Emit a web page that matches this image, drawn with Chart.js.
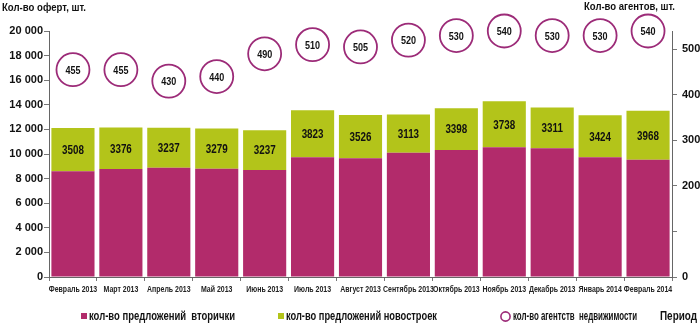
<!DOCTYPE html>
<html lang="ru">
<head>
<meta charset="utf-8">
<script src="https://cdn.jsdelivr.net/npm/chart.js@4/dist/chart.umd.min.js"></script>
<style>
  html, body { margin: 0; padding: 0; background: #fff; }
  #wrap { position: relative; width: 700px; height: 323px; }
</style>
</head>
<body>
<div id="wrap"><canvas id="c" width="700" height="323"></canvas></div>
<script>
// Периоды
const months = ['Февраль 2013', 'Март 2013', 'Апрель 2013', 'Май 2013', 'Июнь 2013', 'Июль 2013',
  'Август 2013', 'Сентябрь 2013', 'Октябрь 2013', 'Ноябрь 2013', 'Декабрь 2013', 'Январь 2014', 'Февраль 2014'];
// кол-во предложений вторички
const resale = [8600, 8780, 8890, 8800, 8700, 9730, 9650, 10100, 10330, 10550, 10460, 9730, 9540];
// кол-во предложений новостроек
const newBuild = [3508, 3376, 3237, 3279, 3237, 3823, 3526, 3113, 3398, 3738, 3311, 3424, 3968];
// кол-во агентств недвижимости
const agencies = [455, 455, 430, 440, 490, 510, 505, 520, 530, 540, 530, 530, 540];
// деления осей
const offerTicks = [0, 2000, 4000, 6000, 8000, 10000, 12000, 14000, 16000, 18000, 20000];
const agencyTicks = [0, 100, 200, 300, 400, 500];

const PINK = '#b22b6b';
const GREEN = '#b3c41a';
const RING = '#9c2b78';
const SANS = '"Liberation Sans", Arial, sans-serif';
const SQUEEZE = 0.82;

const fmtThousands = v => String(v).replace(/\B(?=(\d{3})+(?!\d))/g, ' ');

// узкое начертание: горизонтально сжатый полужирный шрифт
function narrowText(ctx, text, x, y, size, align, width) {
  ctx.save();
  ctx.font = 'bold ' + size + 'px ' + SANS;
  const sx = width ? width / ctx.measureText(text).width : SQUEEZE;
  ctx.translate(x, y);
  ctx.scale(sx, 1);
  ctx.textAlign = align;
  ctx.textBaseline = 'middle';
  ctx.fillText(text, 0, 0);
  ctx.restore();
}

// подписи значений, подписи периодов, заголовки осей и легенда
const annotate = {
  id: 'annotate',
  afterDatasetsDraw(chart) {
    const ctx = chart.ctx;
    ctx.save();
    ctx.fillStyle = '#111';

    chart.getDatasetMeta(1).data.forEach((bar, i) => {
      const p = bar.getProps(['y', 'base'], true);
      narrowText(ctx, String(newBuild[i]), bar.x, (p.y + p.base) / 2 + 1, 12, 'center');
    });

    chart.getDatasetMeta(2).data.forEach((pt, i) => {
      narrowText(ctx, String(agencies[i]), pt.x, pt.y + 1, 11, 'center');
    });

    const xs = chart.scales.x;
    ctx.fillStyle = '#222';
    months.forEach((m, i) => {
      narrowText(ctx, m, xs.getPixelForValue(i), chart.chartArea.bottom + 13, 8.5, 'center');
    });
    ctx.restore();
  },
  afterDraw(chart) {
    const ctx = chart.ctx;
    ctx.save();
    ctx.fillStyle = '#111';
    narrowText(ctx, 'Кол-во оферт, шт.', 2, 8, 11, 'left', 84);
    narrowText(ctx, 'Кол-во агентов, шт.', 675, 7, 11, 'right', 91);

    // легенда
    const ly = 316.5;
    ctx.fillStyle = PINK;
    ctx.fillRect(81, ly - 3.5, 6, 6);
    ctx.fillStyle = '#111';
    narrowText(ctx, 'кол-во предложений  вторички', 89, ly, 12, 'left', 146);
    ctx.fillStyle = GREEN;
    ctx.fillRect(278, ly - 3.5, 6, 6);
    ctx.fillStyle = '#111';
    narrowText(ctx, 'кол-во предложений новостроек', 286, ly, 12, 'left', 151);
    ctx.beginPath();
    ctx.arc(505.5, ly, 4.6, 0, Math.PI * 2);
    ctx.strokeStyle = RING;
    ctx.lineWidth = 1.6;
    ctx.stroke();
    narrowText(ctx, 'кол-во агентств  недвижимости', 513, ly, 12, 'left', 124);
    narrowText(ctx, 'Период', 660, ly + 0.5, 12, 'left', 37);
    ctx.restore();
  }
};

new Chart(document.getElementById('c'), {
  data: {
    labels: months,
    datasets: [
      {
        type: 'bar', label: 'кол-во предложений вторички', data: resale,
        backgroundColor: PINK, yAxisID: 'y', stack: 's', order: 2,
        barPercentage: 0.9, categoryPercentage: 1.0
      },
      {
        type: 'bar', label: 'кол-во предложений новостроек', data: newBuild,
        backgroundColor: GREEN, yAxisID: 'y', stack: 's', order: 2,
        barPercentage: 0.9, categoryPercentage: 1.0
      },
      {
        type: 'line', label: 'кол-во агентств недвижимости', data: agencies,
        yAxisID: 'y2', showLine: false, order: 1, clip: false,
        pointRadius: 16.5, pointHoverRadius: 16.5, pointBorderWidth: 1.8,
        pointBorderColor: RING, pointBackgroundColor: '#fff'
      }
    ]
  },
  options: {
    responsive: false,
    animation: false,
    events: [],
    layout: { padding: { top: 31, left: 0, right: 0, bottom: 0 } },
    plugins: { legend: { display: false }, tooltip: { enabled: false } },
    scales: {
      x: {
        stacked: true,
        offset: true,
        grid: { offset: true, drawOnChartArea: false, drawTicks: true, tickLength: 4, color: '#777' },
        border: { display: true, color: '#666', width: 1 },
        ticks: { display: false, autoSkip: false, maxRotation: 0, minRotation: 0 },
        afterFit(scale) { scale.height = 46; }
      },
      y: {
        position: 'left', stacked: true, min: 0, max: 20000,
        grid: { drawOnChartArea: false, drawTicks: true, tickLength: 5, color: '#777' },
        border: { display: true, color: '#666', width: 1 },
        afterBuildTicks(scale) { scale.ticks = offerTicks.map(v => ({ value: v })); },
        ticks: {
          padding: 1, color: '#111',
          font: { family: SANS, size: 11, weight: 'bold' },
          callback: v => fmtThousands(v)
        },
        afterFit(scale) { scale.width = 49; }
      },
      y2: {
        position: 'right', min: 0, max: 540,
        grid: { drawOnChartArea: false, drawTicks: true, tickLength: 5, color: '#777' },
        border: { display: true, color: '#666', width: 1 },
        afterBuildTicks(scale) { scale.ticks = agencyTicks.map(v => ({ value: v })); },
        ticks: {
          padding: 5, color: '#111',
          font: { family: SANS, size: 11, weight: 'bold' },
          callback: v => (v === 100 ? '' : String(v))
        },
        afterFit(scale) { scale.width = 28; }
      }
    }
  },
  plugins: [annotate]
});
</script>
</body>
</html>
